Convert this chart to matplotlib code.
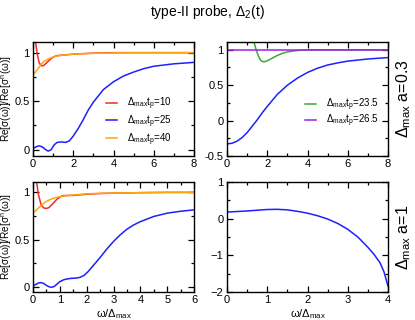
import matplotlib
matplotlib.use("Agg")
import matplotlib.pyplot as plt
from matplotlib.ticker import MultipleLocator

plt.rcParams['font.family'] = ['Liberation Sans', 'DejaVu Sans']
plt.rcParams['mathtext.fontset'] = 'custom'
plt.rcParams['mathtext.rm'] = 'Liberation Sans'
plt.rcParams['mathtext.it'] = 'Liberation Sans'
plt.rcParams['mathtext.bf'] = 'Liberation Sans:bold'

# ---------------- data ----------------
# top-left: a = 0.3
tl_red_x = [0.0, 0.1, 0.2, 0.3, 0.4, 0.5, 0.6, 0.8, 1.0, 1.2, 1.5, 2.0, 2.5, 3.0, 4.0, 5.0, 6.0, 7.0, 8.0]
tl_red_y = [1.35, 1.15, 1.0, 0.9, 0.865, 0.865, 0.88, 0.92, 0.955, 0.97, 0.975, 0.985, 0.99, 0.995, 1.0, 1.0, 1.0, 1.0, 1.0]
tl_blue_x = [0.0, 0.15, 0.3, 0.45, 0.6, 0.75, 0.9, 1.05, 1.2, 1.4, 1.6, 1.8, 2.0, 2.25, 2.5, 2.75, 3.0, 3.5, 4.0, 4.5, 5.0, 5.5, 6.0, 7.0, 8.0]
tl_blue_y = [0.01, 0.03, 0.04, 0.03, 0.005, -0.015, 0.0, 0.05, 0.075, 0.08, 0.075, 0.09, 0.14, 0.22, 0.31, 0.41, 0.49, 0.62, 0.70, 0.76, 0.80, 0.835, 0.86, 0.885, 0.90]
tl_orange_x = [0.0, 0.15, 0.3, 0.45, 0.6, 0.8, 1.0, 1.25, 1.5, 2.0, 2.5, 3.0, 4.0, 5.0, 6.0, 7.0, 8.0]
tl_orange_y = [0.77, 0.81, 0.85, 0.89, 0.915, 0.94, 0.955, 0.968, 0.975, 0.985, 0.99, 0.993, 0.997, 1.0, 1.0, 1.0, 1.0]

# top-right: a = 0.3
tr_blue_x = [0.0, 0.25, 0.5, 0.75, 1.0, 1.25, 1.5, 1.75, 2.0, 2.5, 3.0, 3.5, 4.0, 4.5, 5.0, 5.5, 6.0, 7.0, 8.0]
tr_blue_y = [-0.33, -0.32, -0.29, -0.24, -0.17, -0.08, 0.01, 0.11, 0.20, 0.37, 0.50, 0.60, 0.68, 0.74, 0.785, 0.815, 0.84, 0.87, 0.89]
tr_green_x = [1.2, 1.35, 1.45, 1.55, 1.65, 1.75, 1.85, 2.0, 2.2, 2.5, 2.8, 3.0, 3.5, 4.0, 5.0, 6.0, 7.0, 8.0]
tr_green_y = [1.3, 1.1, 1.0, 0.92, 0.86, 0.835, 0.83, 0.845, 0.875, 0.92, 0.955, 0.97, 0.99, 1.0, 1.0, 1.0, 1.0, 1.0]
tr_purple_x = [0.0, 8.0]
tr_purple_y = [1.0, 1.0]

# bottom-left: a = 1
bl_red_x = [0.1, 0.15, 0.2, 0.3, 0.4, 0.5, 0.6, 0.7, 0.8, 0.9, 1.0, 1.1, 1.3, 1.5, 2.0, 2.5, 3.0, 4.0, 5.0, 6.0]
bl_red_y = [1.15, 1.08, 0.98, 0.87, 0.835, 0.83, 0.84, 0.87, 0.9, 0.93, 0.95, 0.965, 0.968, 0.968, 0.98, 0.988, 0.992, 0.997, 1.0, 1.0]
bl_blue_x = [0.0, 0.1, 0.2, 0.3, 0.4, 0.5, 0.6, 0.7, 0.8, 0.9, 1.0, 1.15, 1.3, 1.45, 1.6, 1.75, 1.9, 2.05, 2.2, 2.35, 2.5, 2.75, 3.0, 3.25, 3.5, 3.75, 4.0, 4.5, 5.0, 5.5, 6.0]
bl_blue_y = [0.01, 0.025, 0.04, 0.045, 0.035, 0.015, 0.0, -0.005, 0.005, 0.03, 0.055, 0.075, 0.085, 0.09, 0.092, 0.1, 0.12, 0.16, 0.21, 0.26, 0.31, 0.40, 0.48, 0.55, 0.61, 0.655, 0.69, 0.745, 0.78, 0.80, 0.815]
bl_orange_x = [0.0, 0.15, 0.3, 0.45, 0.6, 0.8, 1.0, 1.25, 1.5, 2.0, 2.5, 3.0, 4.0, 5.0, 6.0]
bl_orange_y = [0.78, 0.82, 0.86, 0.895, 0.92, 0.94, 0.955, 0.965, 0.972, 0.985, 0.99, 0.993, 0.997, 1.0, 1.0]

# bottom-right: a = 1
br_blue_x = [0.0, 0.25, 0.5, 0.75, 1.0, 1.25, 1.5, 1.75, 2.0, 2.25, 2.5, 2.75, 3.0, 3.25, 3.5, 3.65, 3.8, 3.9, 4.0]
br_blue_y = [0.18, 0.195, 0.21, 0.23, 0.25, 0.255, 0.24, 0.20, 0.15, 0.08, -0.01, -0.13, -0.29, -0.50, -0.78, -0.97, -1.2, -1.45, -1.84]

legend_left = [r'$\Delta_{\rm max}t_{\rm p}$=10', r'$\Delta_{\rm max}t_{\rm p}$=25', r'$\Delta_{\rm max}t_{\rm p}$=40']
legend_right = [r'$\Delta_{\rm max}t_{\rm p}$=23.5', r'$\Delta_{\rm max}t_{\rm p}$=26.5']

RED = '#f42a2a'
BLUE = '#1f1fff'
ORANGE = '#ffa50f'
GREEN = '#3aaa35'
PURPLE = '#a01ee0'
LW = 1.1

fig = plt.figure(figsize=(4.15, 3.2), dpi=100)
W, H = 415.0, 320.0
def box(x0, y0, x1, y1):
    return [x0 / W, 1 - y1 / H, (x1 - x0) / W, (y1 - y0) / H]

ax_tl = fig.add_axes(box(33, 42, 194, 156))
ax_tr = fig.add_axes(box(227, 42, 388, 156))
ax_bl = fig.add_axes(box(33, 182, 194, 292))
ax_br = fig.add_axes(box(227, 182, 388, 292))

TICKFS = 8
for ax in (ax_tl, ax_tr, ax_bl, ax_br):
    ax.tick_params(which='both', direction='in', top=True, right=True,
                   labelsize=TICKFS, width=0.9, pad=2.5)
    ax.tick_params(which='major', length=4.5)
    ax.tick_params(which='minor', length=2.5)
    for s in ax.spines.values():
        s.set_linewidth(1.0)

YLAB = r'Re[$\sigma(\omega)$]/Re[$\sigma^{\rm n}(\omega)$]'
XLAB = r'$\omega/\Delta_{\rm max}$'
LEGKW = dict(frameon=False, fontsize=7, handlelength=1.1, handletextpad=1.1,
             borderpad=0.0, borderaxespad=0.0, loc='center left')
YLAB_X = -0.118

# top-left
ax_tl.plot(tl_red_x, tl_red_y, color=RED, lw=LW, label=legend_left[0])
ax_tl.plot(tl_blue_x, tl_blue_y, color=BLUE, lw=LW, label=legend_left[1])
ax_tl.plot(tl_orange_x, tl_orange_y, color=ORANGE, lw=LW, label=legend_left[2])
ax_tl.set_xlim(0, 8)
ax_tl.set_ylim(-0.065, 1.11)
ax_tl.xaxis.set_major_locator(MultipleLocator(2))
ax_tl.xaxis.set_minor_locator(MultipleLocator(1))
ax_tl.set_yticks([0, 0.5, 1])
ax_tl.set_yticklabels(['0', '0.5', '1'])
ax_tl.yaxis.set_minor_locator(MultipleLocator(0.25))
ax_tl.set_ylabel(YLAB, fontsize=7.2)
ax_tl.yaxis.set_label_coords(YLAB_X, 0.5)
ax_tl.legend(bbox_to_anchor=(0.453, 0.303), labelspacing=0.15, **LEGKW)

# top-right
ax_tr.plot(tr_blue_x, tr_blue_y, color=BLUE, lw=LW)
ax_tr.plot(tr_green_x, tr_green_y, color=GREEN, lw=LW, label=legend_right[0])
ax_tr.plot(tr_purple_x, tr_purple_y, color=PURPLE, lw=LW, label=legend_right[1])
ax_tr.set_xlim(0, 8)
ax_tr.set_ylim(-0.5, 1.11)
ax_tr.xaxis.set_major_locator(MultipleLocator(2))
ax_tr.xaxis.set_minor_locator(MultipleLocator(1))
ax_tr.set_yticks([-0.5, 0, 0.5, 1])
ax_tr.set_yticklabels(['-0.5', '0', '0.5', '1'])
ax_tr.yaxis.set_minor_locator(MultipleLocator(0.25))
ax_tr.legend(bbox_to_anchor=(0.484, 0.377), labelspacing=0.0, **LEGKW)
ax_tr.text(1.095, 0.5, r'$\Delta_{\rm max}$ a=0.3', transform=ax_tr.transAxes,
           rotation=90, ha='center', va='center', fontsize=11.5)

# bottom-left
ax_bl.plot(bl_red_x, bl_red_y, color=RED, lw=LW)
ax_bl.plot(bl_blue_x, bl_blue_y, color=BLUE, lw=LW)
ax_bl.plot(bl_orange_x, bl_orange_y, color=ORANGE, lw=LW)
ax_bl.set_xlim(0, 6)
ax_bl.set_ylim(-0.055, 1.11)
ax_bl.xaxis.set_major_locator(MultipleLocator(1))
ax_bl.xaxis.set_minor_locator(MultipleLocator(0.5))
ax_bl.set_yticks([0, 0.5, 1])
ax_bl.set_yticklabels(['0', '0.5', '1'])
ax_bl.yaxis.set_minor_locator(MultipleLocator(0.25))
ax_bl.set_ylabel(YLAB, fontsize=7.2)
ax_bl.yaxis.set_label_coords(YLAB_X, 0.5)
ax_bl.set_xlabel(XLAB, fontsize=8, labelpad=1)

# bottom-right
ax_br.plot(br_blue_x, br_blue_y, color=BLUE, lw=LW)
ax_br.set_xlim(0, 4)
ax_br.set_ylim(-2, 1)
ax_br.xaxis.set_major_locator(MultipleLocator(1))
ax_br.xaxis.set_minor_locator(MultipleLocator(0.5))
ax_br.yaxis.set_major_locator(MultipleLocator(1))
ax_br.yaxis.set_minor_locator(MultipleLocator(0.5))
ax_br.set_xlabel(XLAB, fontsize=8, labelpad=1)
ax_br.text(1.095, 0.5, r'$\Delta_{\rm max}$ a=1', transform=ax_br.transAxes,
           rotation=90, ha='center', va='center', fontsize=11.5)

fig.text(0.5, 0.962, r'type-II probe, $\Delta_2$(t)', ha='center', va='center', fontsize=10)

fig.savefig('out.png', dpi=100)
